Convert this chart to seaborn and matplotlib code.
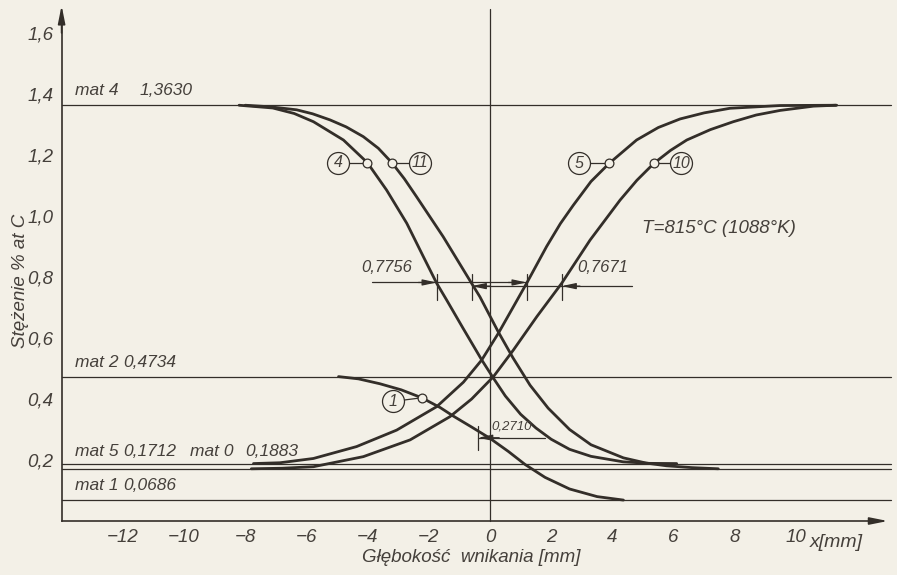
import pandas as pd
import seaborn as sns
import matplotlib.pyplot as plt

# poziomy stężenia materiałów (% at C)
mat_names = ["mat 4", "mat 2", "mat 0", "mat 5", "mat 1"]
mat_values = ["1,3630", "0,4734", "0,1883", "0,1712", "0,0686"]
mat_levels = [1.3630, 0.4734, 0.1883, 0.1712, 0.0686]

# krzywe dyfuzji: x [mm], stężenie [% at C]
c4_x = [-8.2, -7.1, -6.4, -5.77, -4.79, -4.01, -3.38, -2.72, -2.18, -1.74, -1.42, -0.87,
        -0.27, 0.1, 0.5, 1.0, 1.5, 2.0, 2.6, 3.3, 4.35, 5.2, 6.1]
c4_y = [1.363, 1.354, 1.336, 1.309, 1.249, 1.175, 1.085, 0.976, 0.867, 0.779, 0.725, 0.630,
        0.528, 0.470, 0.410, 0.350, 0.305, 0.268, 0.235, 0.212, 0.194, 0.189, 0.1883]

c11_x = [-8.0, -7.2, -6.32, -5.8, -5.23, -4.7, -4.14, -3.65, -3.21, -2.8, -2.40, -1.53,
         -0.60, -0.33, 0.27, 0.75, 1.31, 1.9, 2.6, 3.3, 4.36, 5.1, 5.77, 6.6, 7.46]
c11_y = [1.363, 1.358, 1.348, 1.335, 1.315, 1.292, 1.260, 1.222, 1.175, 1.122, 1.063, 0.932,
         0.779, 0.735, 0.620, 0.535, 0.445, 0.370, 0.300, 0.250, 0.207, 0.190, 0.181, 0.175,
         0.1712]

c5_x = [-7.73, -6.86, -5.77, -4.36, -3.05, -1.74, -0.87, -0.27, 0.27, 0.75, 1.2, 1.85,
        2.3, 2.72, 3.3, 3.90, 4.79, 5.5, 6.21, 7.0, 7.84, 9.48, 11.33]
c5_y = [0.1883, 0.191, 0.205, 0.244, 0.298, 0.375, 0.455, 0.528, 0.615, 0.700, 0.780, 0.900,
        0.975, 1.035, 1.113, 1.173, 1.249, 1.290, 1.318, 1.338, 1.353, 1.362, 1.363]

c10_x = [-7.8, -6.8, -5.77, -4.14, -2.61, -1.31, -0.6, 0.11, 0.76, 1.53, 2.34, 3.27,
         4.25, 4.8, 5.36, 5.9, 6.43, 7.2, 7.95, 8.7, 9.48, 10.57, 11.3]
c10_y = [0.1712, 0.173, 0.178, 0.211, 0.266, 0.342, 0.400, 0.473, 0.560, 0.670, 0.779, 0.921,
         1.052, 1.117, 1.173, 1.215, 1.249, 1.283, 1.309, 1.331, 1.346, 1.360, 1.363]

c1_x = [-4.95, -4.3, -3.6, -2.9, -2.23, -1.63, -1.2, -0.6, 0.0, 0.6, 1.15, 1.8, 2.6, 3.5, 4.36]
c1_y = [0.4734, 0.466, 0.450, 0.430, 0.404, 0.372, 0.344, 0.308, 0.271, 0.228, 0.185,
        0.143, 0.105, 0.080, 0.0686]

# oznaczenia krzywych (numer w kółku)
tag_labels = ["4", "11", "5", "10", "1"]
mark_x = [-4.01, -3.21, 3.90, 5.36, -2.23]
mark_y = [1.175, 1.175, 1.173, 1.173, 0.404]
tag_x = [-4.97, -2.28, 2.92, 6.25, -3.17]
tag_y = [1.175, 1.175, 1.173, 1.173, 0.392]

# wymiarowanie
dim_labels = ["0,7756", "0,7671", "0,2710"]

xticks = [-12, -10, -8, -6, -4, -2, 0, 2, 4, 6, 8, 10]
xtick_labels = ["\u221212", "\u221210", "\u22128", "\u22126", "\u22124", "\u22122",
                "0", "2", "4", "6", "8", "10"]
yticks = [0.2, 0.4, 0.6, 0.8, 1.0, 1.2, 1.4, 1.6]
ytick_labels = ["0,2", "0,4", "0,6", "0,8", "1,0", "1,2", "1,4", "1,6"]

PAPER = "#f3f0e7"
INK = "#332e29"
TEXT = "#45403b"

sns.set_theme(style="white")
plt.rcParams["font.family"] = ["Liberation Sans", "DejaVu Sans"]
plt.rcParams["font.style"] = "italic"

fig = plt.figure(figsize=(8.97, 5.75), dpi=100, facecolor=PAPER)
ax = fig.add_axes([0, 0, 1, 1], facecolor=PAPER)

# krzywe
curves = {"4": (c4_x, c4_y), "11": (c11_x, c11_y), "5": (c5_x, c5_y),
          "10": (c10_x, c10_y), "1": (c1_x, c1_y)}
df = pd.concat([pd.DataFrame({"x": cx, "y": cy, "krzywa": k}) for k, (cx, cy) in curves.items()],
               ignore_index=True)
sns.lineplot(data=df, x="x", y="y", units="krzywa", estimator=None, sort=False,
             color=INK, lw=2.0, legend=False, ax=ax, solid_joinstyle="round",
             solid_capstyle="round")

ax.set_xlim(-16.013, 13.30)
ax.set_ylim(-0.177, 1.708)
ax.set_xlabel("")
ax.set_ylabel("")

# osie
for s in ["top", "right"]:
    ax.spines[s].set_visible(False)
ax.spines["left"].set_position(("data", -14))
ax.spines["left"].set_bounds(0, 1.64)
ax.spines["bottom"].set_position(("data", 0))
ax.spines["bottom"].set_bounds(-14, 12.6)
for s in ["left", "bottom"]:
    ax.spines[s].set_color(INK)
    ax.spines[s].set_linewidth(1.2)
ax.annotate("", xy=(-14, 1.69), xytext=(-14, 1.6),
            arrowprops=dict(arrowstyle="-|>,head_length=0.9,head_width=0.18", color=INK, lw=1.2,
                            shrinkA=0, shrinkB=0))
ax.annotate("", xy=(13.0, 0), xytext=(12.5, 0),
            arrowprops=dict(arrowstyle="-|>,head_length=0.9,head_width=0.18", color=INK, lw=1.2,
                            shrinkA=0, shrinkB=0))

ax.set_xticks(xticks)
ax.set_xticklabels(xtick_labels)
ax.set_yticks(yticks)
ax.set_yticklabels(ytick_labels)
ax.tick_params(direction="in", length=8, width=1.0, color=INK, labelcolor=TEXT, labelsize=13.5)
ax.tick_params(axis="x", pad=6)
ax.tick_params(axis="y", pad=6)

# linia x = 0 i poziomy materiałów
ax.plot([0, 0], [0, 1.68], color=INK, lw=0.9)
for lvl in mat_levels:
    ax.plot([-14, 13.1], [lvl, lvl], color=INK, lw=0.9)

# opisy poziomów
lab_y = {"mat 4": 1.411, "mat 2": 0.520, "mat 5": 0.228, "mat 0": 0.228, "mat 1": 0.116}
lab_x = {"mat 4": (-13.56, -11.44), "mat 2": (-13.56, -12.0), "mat 5": (-13.56, -12.0),
         "mat 0": (-9.8, -8.0), "mat 1": (-13.56, -12.0)}
for name, val in zip(mat_names, mat_values):
    x1, x2 = lab_x[name]
    ax.text(x1, lab_y[name], name, fontsize=12.5, color=TEXT, va="center", ha="left")
    ax.text(x2, lab_y[name], val, fontsize=12.5, color=TEXT, va="center", ha="left")

# numery krzywych
for lab, mx, my, tx, ty in zip(tag_labels, mark_x, mark_y, tag_x, tag_y):
    ax.plot([tx, mx], [ty, my], color=INK, lw=0.9, zorder=3)
    ax.scatter([tx], [ty], s=250, facecolor=PAPER, edgecolor=INK, linewidth=0.9, zorder=4)
    ax.scatter([mx], [my], s=40, facecolor=PAPER, edgecolor=INK, linewidth=0.9, zorder=4)
    ax.text(tx, ty, lab, fontsize=11.5, color=TEXT, ha="center", va="center", zorder=5)

# wymiarowanie 0,7756 / 0,7671
arrow = dict(arrowstyle="-|>,head_length=0.7,head_width=0.15", color=INK, lw=0.9,
             shrinkA=0, shrinkB=0)
ax.plot([-3.86, 1.2], [0.782, 0.782], color=INK, lw=0.9)
ax.plot([-0.55, 4.65], [0.770, 0.770], color=INK, lw=0.9)
for tx, ty, d in [(-1.74, 0.782, -1), (1.2, 0.782, -1), (-0.6, 0.770, 1), (2.34, 0.770, 1)]:
    ax.annotate("", xy=(tx, ty), xytext=(tx + d * 0.6, ty), arrowprops=arrow)
for tx in [-1.74, -0.6, 1.2, 2.34]:
    ax.plot([tx, tx], [0.725, 0.81], color=INK, lw=0.9)
ax.text(-4.2, 0.83, dim_labels[0], fontsize=12, color=TEXT, ha="left", va="center")
ax.text(2.85, 0.83, dim_labels[1], fontsize=12, color=TEXT, ha="left", va="center")

# wymiarowanie 0,2710
ax.plot([-0.39, 1.8], [0.273, 0.273], color=INK, lw=0.9)
ax.plot([-0.39, -0.39], [0.233, 0.31], color=INK, lw=0.9)
ax.annotate("", xy=(-0.39, 0.273), xytext=(0.3, 0.273), arrowprops=arrow)
ax.text(0.05, 0.31, dim_labels[2], fontsize=9.5, color=TEXT, ha="left", va="center")

# temperatura i podpisy osi
ax.text(4.97, 0.96, "T=815\u00b0C (1088\u00b0K)", fontsize=13.5, color=TEXT, ha="left", va="center")
ax.text(10.46, -0.072, "x[mm]", fontsize=14, color=TEXT, ha="left", va="center")
ax.text(-0.62, -0.118, "Głębokość  wnikania [mm]", fontsize=13.5, color=TEXT, ha="center",
        va="center")
ax.text(-15.33, 0.787, "Stężenie % at C", fontsize=13.5, color=TEXT, ha="center", va="center",
        rotation=90)

fig.savefig("out.png", dpi=100, facecolor=PAPER)
plt.close(fig)
